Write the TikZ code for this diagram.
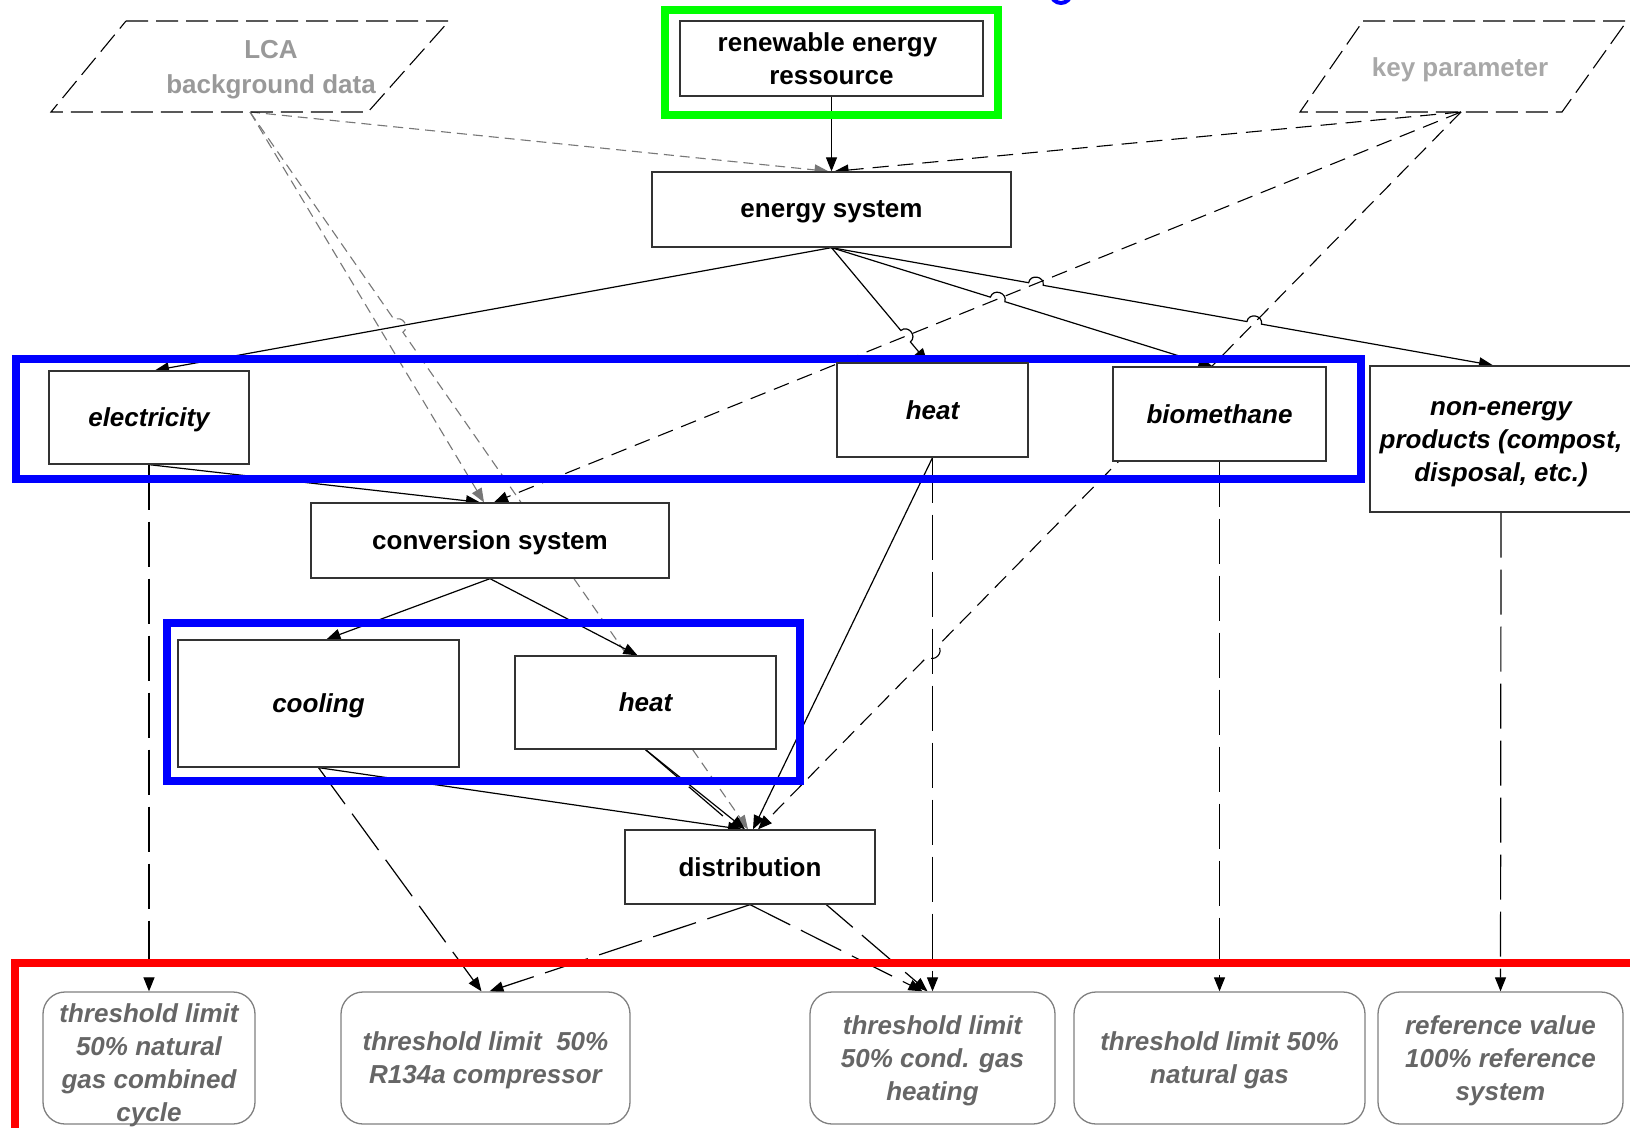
\documentclass[tikz,border=0pt]{standalone}
\usepackage{fontspec}
\setmainfont{Liberation Sans}
\usetikzlibrary{arrows.meta,calc}
\definecolor{boxc}{HTML}{333333}
\definecolor{lcatext}{HTML}{999999}
\definecolor{keytext}{HTML}{A8A8A8}
\definecolor{lcaline}{HTML}{777777}
\definecolor{tgray}{HTML}{808080}
\definecolor{ttext}{HTML}{666666}
\definecolor{frgreen}{HTML}{00FF00}
\definecolor{frblue}{HTML}{0000FF}
\definecolor{frred}{HTML}{FF0000}
\pgfdeclarelayer{bg}
\pgfdeclarelayer{lines}
\pgfdeclarelayer{frames}
\pgfsetlayers{bg,lines,frames,main}
\tikzset{
  box/.style={draw=boxc, line width=1.3pt, fill=white, rectangle, inner sep=2pt, align=center,
    text depth=0pt, font=\fontsize{26}{33}\selectfont\bfseries},
  ibox/.style={box, font=\fontsize{26}{33}\selectfont\bfseries\itshape},
  tbox/.style={draw=tgray, line width=1.3pt, fill=white, rectangle, rounded corners=22pt, inner sep=2pt,
    align=center, text depth=0pt, text=ttext, minimum height=132pt, font=\fontsize{26}{33}\selectfont\bfseries\itshape},
  para/.style={draw=black, line width=1.1pt, dash pattern=on 22pt off 8pt},
  conn/.style={draw=black, line width=1.2pt, -{Triangle[length=14pt,width=11pt]}},
  lcal/.style={draw=lcaline, line width=1.1pt, dash pattern=on 10pt off 6pt, -{Triangle[length=14pt,width=11pt]}},
  keyl/.style={draw=black, line width=1.1pt, dash pattern=on 16pt off 9pt, -{Triangle[length=14pt,width=11pt]}},
  longd/.style={dash pattern=on 45pt off 12pt},
  frame/.style={line width=8pt},
  hop/.style={bend left=90, looseness=1.6},
}
\begin{document}
\begin{tikzpicture}[x=1pt,y=-1pt]
\useasboundingbox (0,0) rectangle (1630,1127);
\clip (0,0) rectangle (1630,1127);
\begin{pgfonlayer}{bg}
\fill[white] (0,0) rectangle (1630,1127);
\end{pgfonlayer}

% parallelograms
\draw[para] (126,21) -- (449,21) -- (368,112) -- (51,112) -- cycle;
\node[text=lcatext, align=center, font=\fontsize{26}{35}\selectfont\bfseries] (lca) at (271,70) {LCA\\background data};
\draw[para] (1363,21) -- (1627,21) -- (1562,112) -- (1300,112) -- cycle;
\node[text=keytext, font=\fontsize{26}{33}\selectfont\bfseries] (key) at (1460,70) {key parameter};
\coordinate (lcaOut) at (250,112);
\coordinate (keyOut) at (1461,112);

% boxes
\node[box, minimum width=303pt, minimum height=75pt] (ren) at (831.5,58.5) {renewable energy\hspace*{8pt}\\ressource};
\node[box, minimum width=359pt, minimum height=75pt] (es) at (831.5,209.5) {energy system};
\node[ibox, minimum width=200pt, minimum height=93pt] (elec) at (149,417.5) {electricity};
\node[ibox, minimum width=191pt, minimum height=94pt] (heatA) at (932.5,410) {heat};
\node[ibox, minimum width=213pt, minimum height=94pt] (bio) at (1219.5,414) {biomethane};
\node[ibox, minimum width=262pt, minimum height=146pt, inner sep=0pt, text height=85pt] (nonen) at (1501,439) {non-energy\\products (compost,\\disposal, etc.)};
\node[box, minimum width=358pt, minimum height=75pt] (conv) at (490,540.5) {conversion system};
\node[ibox, minimum width=281pt, minimum height=127pt] (cool) at (318.5,703.5) {cooling};
\node[ibox, minimum width=261pt, minimum height=93pt] (heatB) at (645.5,702.5) {heat};
\node[box, minimum width=250pt, minimum height=74pt] (dist) at (750,867) {distribution};

\node[tbox, minimum width=212pt, text height=126pt] (tA) at (149,1058) {threshold limit\\50\% natural\\gas combined\\cycle};
\node[tbox, minimum width=289pt] (tB) at (485.5,1058) {threshold limit~ 50\%\\R134a compressor};
\node[tbox, minimum width=245pt] (tC) at (932.5,1058) {threshold limit\\50\% cond. gas\\heating};
\node[tbox, minimum width=291pt] (tD) at (1219.5,1058) {threshold limit 50\%\\natural gas};
\node[tbox, minimum width=245pt] (tE) at (1500.5,1058) {reference value\\100\% reference\\system};

% arrow end points on the node borders
\coordinate (elecIn) at ($(elec.north)+(6,0)$);
\coordinate (heatAIn) at ($(heatA.north)+(-5,0)$);
\coordinate (bioIn) at ($(bio.north)+(-7,0)$);
\coordinate (nonenIn) at ($(nonen.north)+(-8,0)$);
\coordinate (distInL) at ($(dist.north)+(-2,0)$);
\coordinate (distInK) at ($(dist.north)+(8,0)$);

% connectors
\begin{pgfonlayer}{lines}
\draw[conn] (ren.south) -- (es.north);
\draw[lcal] (lcaOut) -- ($(es.north)+(-3,0)$);
\draw[keyl] (keyOut) -- ($(es.north)+(3,0)$);
\draw[conn] (es.south) -- (elecIn);
\draw[conn] (es.south) -- ($(es.south)!0.722!(heatAIn)$) to[hop] ($(es.south)!0.822!(heatAIn)$) -- (heatAIn);
\draw[conn] (es.south) -- ($(es.south)!0.417!(bioIn)$) to[hop] ($(es.south)!0.455!(bioIn)$) -- (bioIn);
\draw[conn] (es.south) -- ($(es.south)!0.298!(nonenIn)$) to[hop] ($(es.south)!0.320!(nonenIn)$)
   -- ($(es.south)!0.628!(nonenIn)$) to[hop] ($(es.south)!0.650!(nonenIn)$) -- (nonenIn);
\draw[keyl] (keyOut) -- ($(conv.north)+(4,0)$);
\draw[keyl] (keyOut) -- ($(keyOut)!0.744!(distInK)$) to[hop] ($(keyOut)!0.759!(distInK)$) -- (distInK);
\draw[lcal] (lcaOut) -- ($(conv.north)+(-6,0)$);
\draw[lcal] (lcaOut) -- ($(lcaOut)!0.290!(distInL)$) to[hop] ($(lcaOut)!0.307!(distInL)$) -- (distInL);
\draw[conn] (elec.south) -- ($(conv.north)+(-10,0)$);
\draw[conn,longd] (elec.south) -- (tA.north);
\draw[conn,longd] (heatA.south) -- (tC.north);
\draw[conn,longd] (bio.south) -- (tD.north);
\draw[conn,longd] (nonen.south) -- (tE.north);
\draw[conn] (heatA.south) -- ($(dist.north)+(3,0)$);
\draw[conn] (conv.south) -- ($(cool.north)+(8,0)$);
\draw[conn] (conv.south) -- ($(heatB.north)+(-8,0)$);
\draw[conn] (cool.south) -- ($(dist.north)+(-8,0)$);
\draw[conn] (heatB.south) -- ($(dist.north)+(-5,0)$);
\draw[conn,longd] (cool.south) -- ($(tB.north)+(-4,0)$);
\draw[conn,longd] (dist.south) -- ($(tB.north)+(4,0)$);
\draw[conn,longd] (dist.south) -- ($(tC.north)+(-10,0)$);
\draw[conn,longd] (heatB.south) -- ($(tC.north)+(-5,0)$);
\end{pgfonlayer}

% frames
\begin{pgfonlayer}{frames}
\draw[frame, frgreen] (665,10) rectangle (998,115);
\draw[frame, frblue] (16,358.5) rectangle (1360.5,479);
\draw[frame, frblue] (166.5,622.5) rectangle (800,781);
\draw[frame, frred] (15,963) rectangle (1700,1200);
\draw[frblue, line width=4pt] (1061,-7) circle (10pt);
\end{pgfonlayer}
\end{tikzpicture}
\end{document}
